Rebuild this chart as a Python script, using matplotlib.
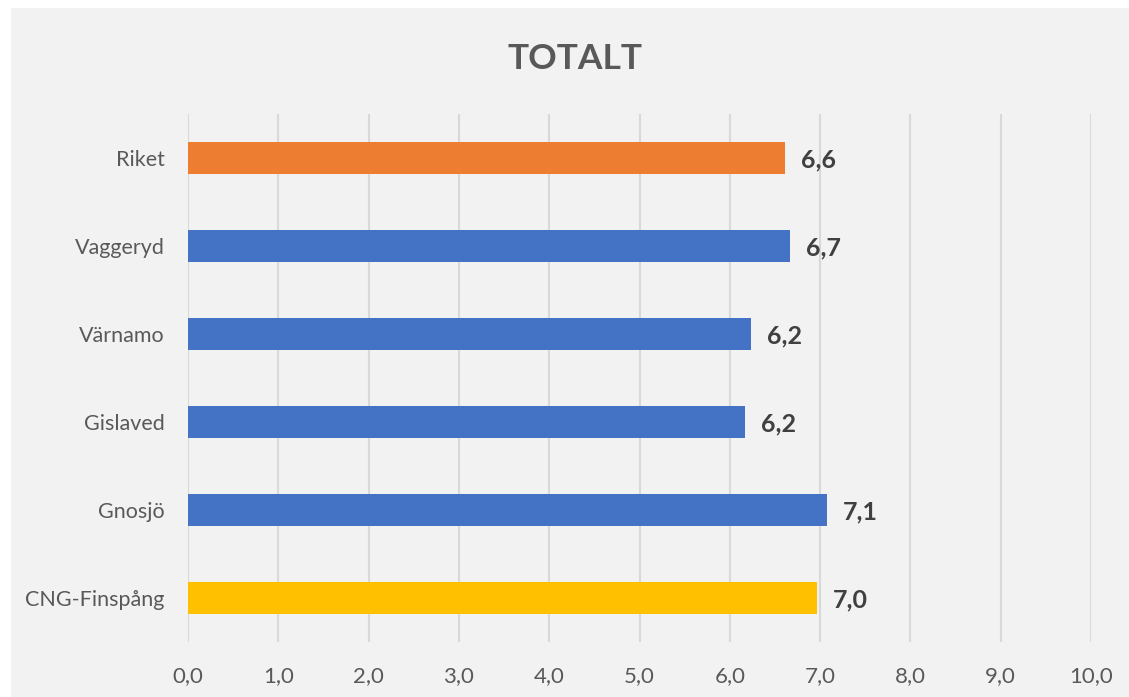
import matplotlib
matplotlib.use("Agg")
import matplotlib.pyplot as plt
from matplotlib.patches import Rectangle

categories = ["Riket", "Vaggeryd", "Värnamo", "Gislaved", "Gnosjö", "CNG-Finspång"]
values = [6.61, 6.67, 6.23, 6.17, 7.08, 6.97]
colors = ["#ED7D31", "#4472C4", "#4472C4", "#4472C4", "#4472C4", "#FFC000"]
xticks = [0, 1, 2, 3, 4, 5, 6, 7, 8, 9, 10]
title = "TOTALT"

plt.rcParams['font.family'] = ['Lato', 'DejaVu Sans']

W, H = 1129, 697
fig = plt.figure(figsize=(W / 100, H / 100), dpi=100)
fig.patch.set_facecolor("white")
fig.patches.append(Rectangle((11 / W, 0), 1 - 11 / W, 1 - 8 / H,
                             transform=fig.transFigure, facecolor="#F2F2F2",
                             edgecolor="none", zorder=-10))

ax = fig.add_axes([188 / W, 1 - 642 / H, (1091 - 188) / W, (642 - 114) / H])
ax.set_facecolor("none")

ypos = list(range(len(categories)))
ax.barh(ypos, values, height=0.36, color=colors, zorder=3)
ax.set_ylim(len(categories) - 0.5, -0.5)
ax.set_xlim(0, 10)

ax.set_xticks(xticks)
ax.set_xticklabels([f"{t:.1f}".replace(".", ",") for t in xticks])
ax.set_yticks(ypos)
ax.set_yticklabels(categories)
ax.tick_params(axis="x", length=0, pad=17, labelsize=16, labelcolor="#595959")
ax.tick_params(axis="y", length=0, pad=17, labelsize=15.5, labelcolor="#595959")

ax.grid(axis="x", color="#D9D9D9", linewidth=1.5, zorder=0)
ax.grid(axis="y", visible=False)
for s in ax.spines.values():
    s.set_visible(False)

for y, v in zip(ypos, values):
    ax.annotate(f"{v:.1f}".replace(".", ","), xy=(v, y), xytext=(11.5, -6.5),
                textcoords="offset points", va="baseline", ha="left",
                fontsize=18, fontweight="bold", color="#404040", zorder=4)

fig.text(575 / W, 1 - 69 / H, title, ha="center", va="baseline",
         fontsize=25.5, fontweight="bold", color="#595959")

fig.savefig("out.png", dpi=100, facecolor=fig.get_facecolor())
